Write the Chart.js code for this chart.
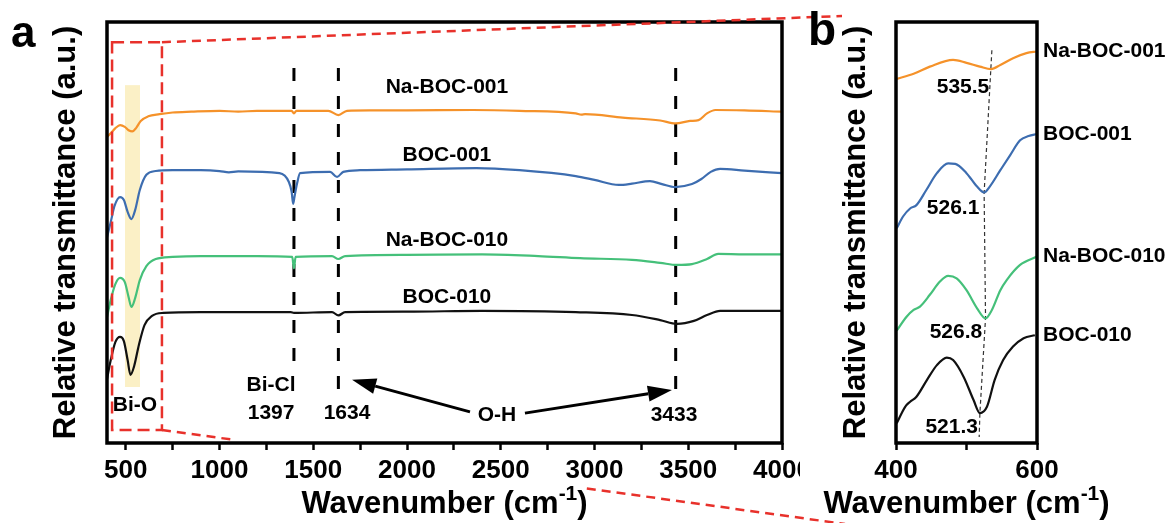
<!DOCTYPE html>
<html>
<head>
<meta charset="utf-8">
<script src="https://cdn.jsdelivr.net/npm/chart.js@4.4.1/dist/chart.umd.min.js"></script>
<style>
  html, body { margin: 0; padding: 0; background: #fff; }
  #wrap { position: relative; width: 1174px; height: 523px; overflow: hidden; }
  #cA, #cB { position: absolute; left: 0; top: 0; }
</style>
</head>
<body>
<div id="wrap">
  <canvas id="cA" width="800" height="523" style="width:800px;height:523px"></canvas>
  <canvas id="cB" width="1174" height="523" style="width:1174px;height:523px"></canvas>
</div>
<script>
// ---- panel a : full FTIR spectra (wavenumber, relative transmittance) ----
const wnNa001 = [400,420,445,470,495,515,535,555,580,620,680,750,850,1000,1100,1200,1385,1397,1410,1580,1634,1680,1800,2000,2350,2600,2900,2930,2950,3150,3350,3433,3510,3555,3600,3645,3800,4000];
const tNa001  = [72.7,73.6,74.8,75.5,75.1,74.3,74.0,74.8,76.5,77.6,78.1,78.5,78.7,78.9,78.7,78.9,78.9,78.3,78.9,78.9,77.9,78.9,79.0,79.0,79.1,78.9,78.3,78.0,78.1,77.3,76.6,75.9,76.5,76.7,78.3,79.1,79.0,78.7];

const wnB001 = [400,420,440,470,490,510,530,550,575,610,660,750,900,1000,1050,1100,1320,1370,1385,1393,1400,1413,1430,1590,1627,1660,1750,2000,2370,2600,2900,3000,3130,3200,3296,3360,3430,3520,3570,3620,3670,3800,4000];
const tB001  = [48.9,52.5,56.3,58.4,57.7,54.9,53.2,55.3,60.1,63.7,64.6,64.8,64.8,64.6,64.3,64.5,64.1,62.0,59.6,56.8,58.5,61.5,64.1,64.4,63.2,64.4,64.8,65.0,65.3,64.8,63.4,62.5,61.3,61.6,62.2,61.5,60.8,61.5,62.7,64.4,65.1,64.7,64.1];

const wnNa010 = [400,420,445,470,495,515,530,550,575,610,660,750,900,1200,1388,1397,1406,1600,1634,1670,2000,2400,2700,2923,3200,3350,3440,3520,3600,3660,3800,4000];
const tNa010  = [29.9,34.0,37.8,39.2,38.2,34.7,32.3,34.4,38.7,42.0,43.7,44.2,44.4,44.4,44.2,41.5,44.2,44.4,43.7,44.4,44.7,44.8,44.4,43.9,43.5,42.8,42.3,42.5,43.7,44.9,44.8,44.8];

const wnB010 = [400,420,445,470,490,510,525,545,570,600,640,700,900,1380,1397,1600,1634,1670,2000,2400,2900,3200,3350,3440,3530,3600,3670,4000];
const tB010  = [15.2,19.7,24.0,25.2,24.2,19.7,16.2,18.3,23.3,28.0,30.2,30.9,31.1,31.1,30.9,31.1,30.3,31.1,31.2,31.4,31.1,30.4,29.2,28.3,29.0,30.4,31.4,31.4];

const seriesNames = ['Na-BOC-001', 'BOC-001', 'Na-BOC-010', 'BOC-010'];
const seriesColors = ['#f5922a', '#3d6db0', '#45c07a', '#111111'];

const ticksA = [500,750,1000,1250,1500,1750,2000,2250,2500,2750,3000,3250,3500,3750,4000];
const tickLabelsA = ['500','1000','1500','2000','2500','3000','3500','4000'];
const peakWn = [1397, 1634, 3433];

// ---- panel b : zoom on the Bi-O band ----
const wnZNa001 = [401,425,448,481,500,519,535,548,566,585,600];
const tZNa001  = [86.5,87.7,89.4,91.0,90.3,89.4,88.8,89.8,91.4,92.6,93.0];
const wnZB001 = [401,410,420,429,443,458,474,484,500,515,525,533,548,562,576,588,600];
const tZB001  = [51.0,53.8,55.7,56.5,60.1,64.1,66.4,66.3,64.1,60.9,59.5,60.9,64.8,68.4,71.9,72.9,73.4];
const wnZNa010 = [401,415,425,434,448,462,474,486,500,515,527,536,548,557,576,600];
const tZNa010  = [26.7,30.0,31.6,32.4,35.2,38.3,39.7,39.1,36.3,32.0,29.6,31.6,36.3,38.7,42.3,44.3];
const wnZB010 = [401,413,420,429,444,458,472,481,496,510,519,529,540,552,566,581,597];
const tZB010  = [4.7,8.6,9.8,11.0,15.0,18.5,20.3,19.7,15.7,10.2,7.1,8.6,15.0,19.7,22.9,24.9,25.6];
const dipNames = ['535.5', '526.1', '526.8', '521.3'];
const dipGuideWn = [536, 534.5, 525, 527, 519, 518];
const dipGuideT  = [93.3, 88.8, 59.4, 29.7, 7.1, 1.4];
const ticksB = [400, 500, 600];
const tickLabelsB = ['400', '600'];

const FONT = '"Liberation Sans", Arial, Helvetica, sans-serif';
Chart.defaults.font.family = FONT;
Chart.defaults.color = '#000';

function pts(xs, ys) { return xs.map((x, i) => ({ x: x, y: ys[i] })); }
function font(size) { return 'bold ' + size + 'px ' + FONT; }

function arrow(ctx, x0, y0, x1, y1) {
  const a = Math.atan2(y1 - y0, x1 - x0), L = 24, W = 8;
  const bx = x1 - L * Math.cos(a), by = y1 - L * Math.sin(a);
  ctx.beginPath(); ctx.moveTo(x0, y0); ctx.lineTo(bx, by); ctx.stroke();
  ctx.beginPath(); ctx.moveTo(x1, y1);
  ctx.lineTo(bx + W * Math.sin(a), by - W * Math.cos(a));
  ctx.lineTo(bx - W * Math.sin(a), by + W * Math.cos(a));
  ctx.closePath(); ctx.fill();
}

// x title with superscript
function xTitle(ctx, area) {
  const main = 'Wavenumber (cm', sup = '-1', end = ')';
  ctx.font = font(31); const w1 = ctx.measureText(main).width, w3 = ctx.measureText(end).width;
  ctx.font = font(21); const w2 = ctx.measureText(sup).width;
  let x = (area.left + area.right) / 2 - (w1 + w2 + w3) / 2;
  ctx.textAlign = 'left'; ctx.textBaseline = 'alphabetic';
  ctx.font = font(31); ctx.fillText(main, x, 513); x += w1;
  ctx.font = font(21); ctx.fillText(sup, x, 500); x += w2;
  ctx.font = font(31); ctx.fillText(end, x, 513);
}

function frame(ctx, area) {
  ctx.save();
  ctx.setLineDash([]); ctx.strokeStyle = '#000'; ctx.lineWidth = 3.5;
  ctx.strokeRect(area.left, area.top, area.right - area.left, area.bottom - area.top);
  ctx.restore();
}

// annotations of panel a (positions in data units)
const zoomBox = [427, 693, 95.2, 3.1];
const biOBand = [496, 576, 85.0, 13.3];
const labelsA = [
  { text: 'Na-BOC-001', x: 2213, y: 84.6 },
  { text: 'BOC-001', x: 2213, y: 68.4 },
  { text: 'Na-BOC-010', x: 2213, y: 48.2 },
  { text: 'BOC-010', x: 2213, y: 34.7 },
  { text: 'Bi-O', x: 549, y: 9.0 },
  { text: 'Bi-Cl', x: 1275, y: 13.8 },
  { text: '1397', x: 1275, y: 7.1 },
  { text: '1634', x: 1680, y: 7.1 },
  { text: 'O-H', x: 2480, y: 6.7 },
  { text: '3433', x: 3424, y: 6.7 }
];

const panelA = {
  id: 'panelA',
  beforeDatasetsDraw(chart) {
    const { ctx, scales: { x, y } } = chart;
    ctx.save();
    ctx.fillStyle = '#fbf0c6';
    const bx0 = x.getPixelForValue(biOBand[0]), bx1 = x.getPixelForValue(biOBand[1]);
    const by0 = y.getPixelForValue(biOBand[2]), by1 = y.getPixelForValue(biOBand[3]);
    ctx.fillRect(bx0, by0, bx1 - bx0, by1 - by0);
    ctx.strokeStyle = '#000'; ctx.lineWidth = 3; ctx.setLineDash([13, 15]);
    const bottoms = [17.3, 10.9, 10.9];
    peakWn.forEach((w, i) => {
      const px = x.getPixelForValue(w);
      ctx.beginPath(); ctx.moveTo(px, y.getPixelForValue(89.1)); ctx.lineTo(px, y.getPixelForValue(bottoms[i])); ctx.stroke();
    });
    ctx.restore();
  },
  afterDatasetsDraw(chart) {
    const { ctx, chartArea: area, scales: { x, y } } = chart;
    frame(ctx, area);
    ctx.save();
    // zoom box
    ctx.strokeStyle = '#e8312b'; ctx.lineWidth = 2.5; ctx.setLineDash([12, 6]);
    const zx0 = x.getPixelForValue(zoomBox[0]), zx1 = x.getPixelForValue(zoomBox[1]);
    const zy0 = y.getPixelForValue(zoomBox[2]), zy1 = y.getPixelForValue(zoomBox[3]);
    ctx.strokeRect(zx0, zy0, zx1 - zx0, zy1 - zy0);
    // texts
    ctx.setLineDash([]);
    ctx.fillStyle = '#000'; ctx.strokeStyle = '#000';
    ctx.font = font(21); ctx.textAlign = 'center'; ctx.textBaseline = 'middle';
    labelsA.forEach(l => ctx.fillText(l.text, x.getPixelForValue(l.x), y.getPixelForValue(l.y)));
    // O-H arrows
    ctx.lineWidth = 3;
    arrow(ctx, x.getPixelForValue(2336), y.getPixelForValue(7.4), x.getPixelForValue(1707), y.getPixelForValue(15.0));
    arrow(ctx, x.getPixelForValue(2629), y.getPixelForValue(7.1), x.getPixelForValue(3413), y.getPixelForValue(12.6));
    ctx.restore();
  },
  afterDraw(chart) {
    const { ctx, chartArea: area } = chart;
    ctx.save();
    ctx.fillStyle = '#000';
    ctx.font = font(44); ctx.textAlign = 'left'; ctx.textBaseline = 'alphabetic';
    ctx.fillText('a', 11, 47);
    xTitle(ctx, area);
    ctx.restore();
  }
};

function lineSet(xs, ys, i) {
  return { label: seriesNames[i], data: pts(xs, ys), borderColor: seriesColors[i], borderWidth: 2.2, pointRadius: 0, cubicInterpolationMode: 'monotone', fill: false };
}

const chartA = new Chart(document.getElementById('cA'), {
  type: 'line',
  data: { datasets: [
    lineSet(wnNa001, tNa001, 0), lineSet(wnB001, tB001, 1),
    lineSet(wnNa010, tNa010, 2), lineSet(wnB010, tB010, 3)
  ] },
  options: {
    responsive: false, animation: false, events: [],
    layout: { padding: { left: 0, right: 18, top: 22, bottom: 0 } },
    plugins: { legend: { display: false }, tooltip: { enabled: false } },
    scales: {
      x: {
        type: 'linear', min: 400, max: 4000,
        afterBuildTicks: s => { s.ticks = ticksA.map(v => ({ value: v })); },
        afterFit: s => { s.height = 80; s.paddingLeft = 0; s.paddingRight = 0; },
        ticks: { autoSkip: false, maxRotation: 0, padding: 5, color: '#000', font: { size: 26, weight: 'bold' },
                 callback: v => tickLabelsA.includes(String(v)) ? String(v) : '' },
        grid: { drawOnChartArea: false, tickLength: 7, tickWidth: 2.5, color: '#000' },
        border: { display: false }
      },
      y: {
        min: 0, max: 100,
        afterFit: s => { s.width = 107; },
        ticks: { display: false },
        grid: { display: false },
        border: { display: false },
        title: { display: true, text: 'Relative transmittance (a.u.)', color: '#000',
                 font: { size: 31, weight: 'bold' }, padding: { top: 48, bottom: 0 } }
      }
    }
  },
  plugins: [panelA]
});

const panelB = {
  id: 'panelB',
  beforeDraw(chart) {
    // red connectors from the zoom box of panel a
    const { ctx, chartArea: area } = chart;
    const xa = chartA.scales.x, ya = chartA.scales.y;
    const rx = xa.getPixelForValue(zoomBox[1]);
    const ry0 = ya.getPixelForValue(zoomBox[2]), ry1 = ya.getPixelForValue(zoomBox[3]);
    ctx.save();
    ctx.strokeStyle = '#e8312b'; ctx.lineWidth = 2.5; ctx.setLineDash([9, 6]);
    const tx = area.left - 54, ty = area.top - 6;
    ctx.beginPath(); ctx.moveTo(rx, ry0); ctx.lineTo(tx, ty); ctx.stroke();
    const ex = area.left - 51, ey = chart.height + 1;
    const seg = (t0, t1) => {
      ctx.beginPath();
      ctx.moveTo(rx + (ex - rx) * t0, ry1 + (ey - ry1) * t0);
      ctx.lineTo(rx + (ex - rx) * t1, ry1 + (ey - ry1) * t1);
      ctx.stroke();
    };
    seg(0, 0.107); seg(0.622, 1);
    ctx.restore();
  },
  afterDatasetsDraw(chart) {
    const { ctx, chartArea: area, scales: { x, y } } = chart;
    frame(ctx, area);
    ctx.save();
    ctx.fillStyle = '#000';
    ctx.font = font(21); ctx.textBaseline = 'middle';
    // series names at the end of each trace
    ctx.textAlign = 'left';
    chart.data.datasets.slice(0, 4).forEach(ds => {
      const last = ds.data[ds.data.length - 1];
      ctx.fillText(ds.label, area.right + 6, y.getPixelForValue(last.y));
    });
    // dip positions
    ctx.textAlign = 'center';
    const dipPos = [[495, 84.6], [481, 55.8], [485, 26.4], [479, 3.8]];
    dipNames.forEach((t, i) => ctx.fillText(t, x.getPixelForValue(dipPos[i][0]), y.getPixelForValue(dipPos[i][1])));
    ctx.restore();
  },
  afterDraw(chart) {
    const { ctx, chartArea: area } = chart;
    ctx.save();
    ctx.fillStyle = '#000';
    ctx.font = font(46); ctx.textAlign = 'left'; ctx.textBaseline = 'alphabetic';
    ctx.fillText('b', 808, 45);
    xTitle(ctx, area);
    ctx.restore();
  }
};

const chartB = new Chart(document.getElementById('cB'), {
  type: 'line',
  data: { datasets: [
    lineSet(wnZNa001, tZNa001, 0), lineSet(wnZB001, tZB001, 1),
    lineSet(wnZNa010, tZNa010, 2), lineSet(wnZB010, tZB010, 3),
    { label: 'dip', data: pts(dipGuideWn, dipGuideT), borderColor: '#333', borderWidth: 1.2,
      borderDash: [4, 3], pointRadius: 0, tension: 0, fill: false }
  ] },
  options: {
    responsive: false, animation: false, events: [],
    layout: { padding: { left: 800, right: 137, top: 22, bottom: 0 } },
    plugins: { legend: { display: false }, tooltip: { enabled: false } },
    scales: {
      x: {
        type: 'linear', min: 400, max: 600,
        afterBuildTicks: s => { s.ticks = ticksB.map(v => ({ value: v })); },
        afterFit: s => { s.height = 80; s.paddingLeft = 0; s.paddingRight = 0; },
        ticks: { autoSkip: false, maxRotation: 0, padding: 5, color: '#000', font: { size: 26, weight: 'bold' },
                 callback: v => tickLabelsB.includes(String(v)) ? String(v) : '' },
        grid: { drawOnChartArea: false, tickLength: 7, tickWidth: 2.5, color: '#000' },
        border: { display: false }
      },
      y: {
        min: 0, max: 100,
        afterFit: s => { s.width = 96; },
        ticks: { display: false },
        grid: { display: false },
        border: { display: false },
        title: { display: true, text: 'Relative transmittance (a.u.)', color: '#000',
                 font: { size: 31, weight: 'bold' }, padding: { top: 38, bottom: 0 } }
      }
    }
  },
  plugins: [panelB]
});
</script>
</body>
</html>
